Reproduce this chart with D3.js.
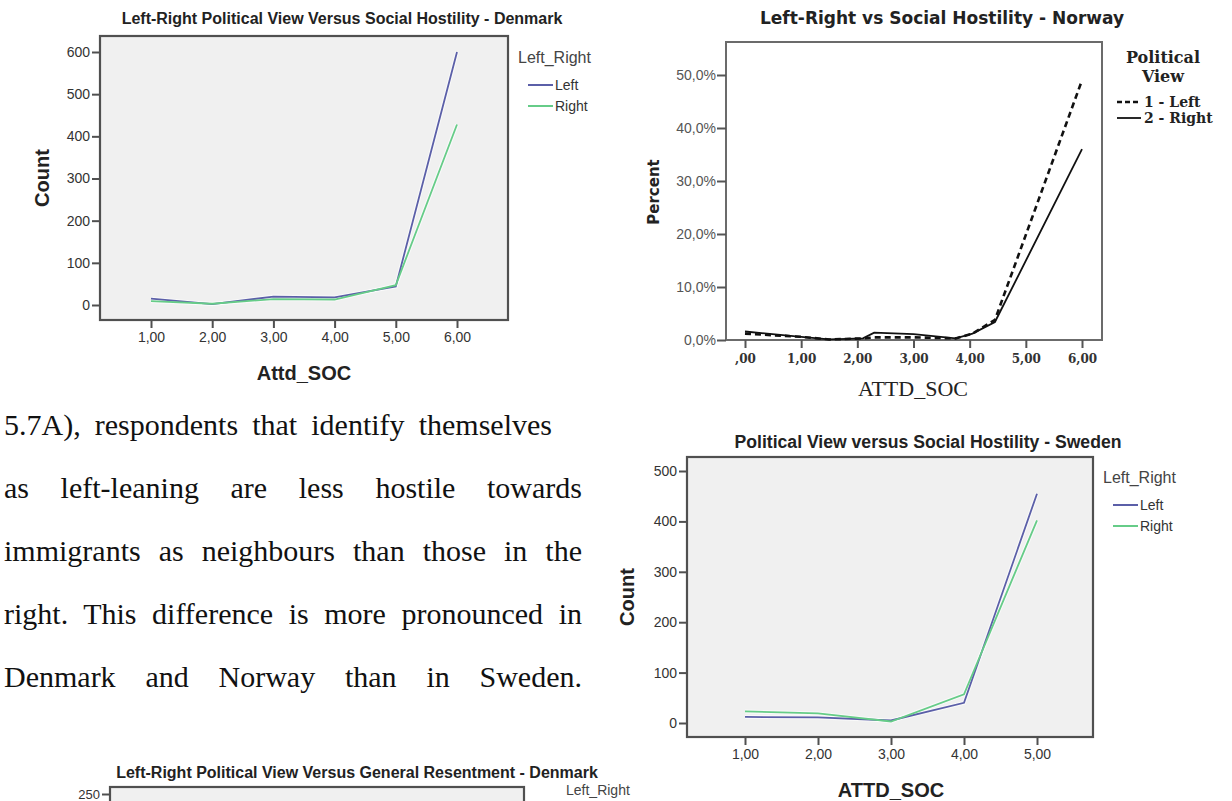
<!DOCTYPE html>
<html><head><meta charset="utf-8">
<script src="https://cdn.jsdelivr.net/npm/d3@7"></script>
<style>html,body{margin:0;padding:0;background:#fff;} svg{display:block;}</style>
</head><body>
<svg id="c" width="1232" height="801"></svg>
<script>
// ---------- DATA ----------
// Denmark (Count)
const dkCategories = [1, 2, 3, 4, 5, 6];
const dkLeft  = [15, 2, 20, 18, 44, 600];
const dkRight = [9, 3, 14, 13, 47, 428];
const dkYTicks = [0, 100, 200, 300, 400, 500, 600];
// Norway (Percent)
const noX     = [0, 1, 1.5, 2.1, 2.3, 3, 3.75, 4.05, 4.45, 6];
const noLeft  = [1.2, 0.6, 0.1, 0.3, 0.5, 0.5, 0.3, 1.2, 3.8, 49];
const noRight = [1.6, 0.6, 0.1, 0.3, 1.4, 1.1, 0.3, 1.2, 3.4, 36];
const noXTicks = [0, 1, 2, 3, 4, 5, 6];
const noYTicks = [0, 10, 20, 30, 40, 50];
// Sweden (Count)
const seCategories = [1, 2, 3, 4, 5];
const seLeft  = [12, 11, 5, 40, 455];
const seRight = [23, 19, 3, 57, 402];
const seYTicks = [0, 100, 200, 300, 400, 500];
// Bottom chart (partially visible)
const grYTicks = [250];
// Paragraph
const paragraphLines = [
  "5.7A), respondents that identify themselves",
  "as left-leaning are less hostile towards",
  "immigrants as neighbours than those in the",
  "right. This difference is more pronounced in",
  "Denmark and Norway than in Sweden."
];
const seriesNames = ["Left", "Right"];
const noSeriesNames = ["1 - Left", "2 - Right"];

// ---------- DRAW ----------
const svg = d3.select('#c');
const SANS = "'Liberation Sans', Arial, sans-serif";
const comma2 = v => d3.format('.2f')(v).replace('.', ',');
const LEFT_C = '#5b5fa8', RIGHT_C = '#66cc88';

function spssChart(c) {
  const g = svg.append('g');
  const x = d3.scaleLinear().domain(c.xDomain).range(c.xRange);
  const y = d3.scaleLinear().domain(c.yDomain).range(c.yRange);
  g.append('rect').attr('x', c.box[0]).attr('y', c.box[2])
    .attr('width', c.box[1] - c.box[0]).attr('height', c.box[3] - c.box[2])
    .attr('fill', '#f0f0f0').attr('stroke', '#505050').attr('stroke-width', 2.2);
  const ya = g.append('g').attr('transform', `translate(${c.box[0]},0)`)
    .call(d3.axisLeft(y).tickValues(c.yTicks).tickSize(8).tickPadding(2).tickFormat(d3.format('d')));
  ya.select('.domain').remove();
  ya.selectAll('line').attr('stroke', '#505050').attr('stroke-width', 2);
  ya.selectAll('text').attr('font-family', SANS).attr('font-size', c.tickFont || 14).attr('fill', '#333');
  if (c.xTicks) {
    const xa = g.append('g').attr('transform', `translate(0,${c.box[3]})`)
      .call(d3.axisBottom(x).tickValues(c.xTicks).tickSize(8).tickPadding(4).tickFormat(comma2));
    xa.select('.domain').remove();
    xa.selectAll('line').attr('stroke', '#505050').attr('stroke-width', 2);
    xa.selectAll('text').attr('font-family', SANS).attr('font-size', 14).attr('fill', '#333');
  }
  if (c.series) {
    const line = d3.line().x((d, i) => x(c.cats[i])).y(d => y(d));
    c.series.forEach(s => {
      g.append('path').attr('d', line(s.values)).attr('fill', 'none')
        .attr('stroke', '#ffffff').attr('stroke-opacity', 0.6).attr('stroke-width', 4);
    });
    c.series.forEach(s => {
      g.append('path').attr('d', line(s.values)).attr('fill', 'none')
        .attr('stroke', s.color).attr('stroke-width', 1.8);
    });
  }
  g.append('text').attr('x', c.title[1]).attr('y', c.title[2]).attr('text-anchor', 'middle')
    .attr('font-family', SANS).attr('font-weight', 'bold').attr('font-size', c.title[3])
    .attr('fill', '#222').text(c.title[0]);
  if (c.yLabel) g.append('text').attr('transform', `translate(${c.yLabel[1]},${c.yLabel[2]}) rotate(-90)`)
    .attr('text-anchor', 'middle').attr('font-family', SANS).attr('font-weight', 'bold')
    .attr('font-size', 20).attr('fill', '#222').text(c.yLabel[0]);
  if (c.xLabel) g.append('text').attr('x', c.xLabel[1]).attr('y', c.xLabel[2]).attr('text-anchor', 'middle')
    .attr('font-family', SANS).attr('font-weight', 'bold').attr('font-size', 20).attr('fill', '#222')
    .text(c.xLabel[0]);
  const lg = c.legend;
  g.append('text').attr('x', lg.x).attr('y', lg.y).attr('font-family', SANS).attr('font-size', lg.size || 16)
    .attr('fill', '#444').text('Left_Right');
  if (c.series) c.series.forEach((s, k) => {
    const yy = lg.y + 22 + k * 21;
    g.append('line').attr('x1', lg.x + 10).attr('x2', lg.x + 35).attr('y1', yy).attr('y2', yy)
      .attr('stroke', s.color).attr('stroke-width', 2);
    g.append('text').attr('x', lg.x + 37).attr('y', yy + 5).attr('font-family', SANS)
      .attr('font-size', 14).attr('fill', '#333').text(s.name);
  });
}

// Denmark
spssChart({
  box: [100, 508, 36, 320], xDomain: [1, 6], xRange: [151, 457], yDomain: [0, 600], yRange: [305, 52],
  yTicks: dkYTicks, xTicks: dkCategories, cats: dkCategories,
  series: [{name: seriesNames[0], values: dkLeft, color: LEFT_C}, {name: seriesNames[1], values: dkRight, color: RIGHT_C}],
  title: ['Left-Right Political View Versus Social Hostility - Denmark', 342, 24, 16],
  yLabel: ['Count', 49, 178], xLabel: ['Attd_SOC', 304, 380],
  legend: {x: 518, y: 63}
});
// Sweden
spssChart({
  box: [687, 1093, 457, 737], xDomain: [1, 5], xRange: [745, 1037], yDomain: [0, 500], yRange: [723, 471],
  yTicks: seYTicks, xTicks: seCategories, cats: seCategories,
  series: [{name: seriesNames[0], values: seLeft, color: LEFT_C}, {name: seriesNames[1], values: seRight, color: RIGHT_C}],
  title: ['Political View versus Social Hostility - Sweden', 928, 448, 17.6],
  yLabel: ['Count', 634, 597], xLabel: ['ATTD_SOC', 891, 797],
  legend: {x: 1103, y: 483}
});
// Bottom (General Resentment) - only its top is visible
spssChart({
  box: [110, 524, 787, 1000], xDomain: [1, 6], xRange: [160, 475], yDomain: [0, 250], yRange: [990, 794],
  yTicks: grYTicks, tickFont: 13, xTicks: null, cats: null, series: null,
  title: ['Left-Right Political View Versus General Resentment - Denmark', 357, 778, 16],
  legend: {x: 566, y: 795, size: 14}
});

// Norway
(function () {
  const g = svg.append('g');
  const box = [726, 1102, 42, 340];
  const x = d3.scaleLinear().domain([0, 6]).range([745, 1082]);
  const y = d3.scaleLinear().domain([0, 50]).range([340, 75]);
  g.append('rect').attr('x', box[0]).attr('y', box[2]).attr('width', box[1] - box[0]).attr('height', box[3] - box[2])
    .attr('fill', '#fff').attr('stroke', '#6b6b6b').attr('stroke-width', 2);
  const ya = g.append('g').attr('transform', `translate(${box[0]},0)`)
    .call(d3.axisLeft(y).tickValues(noYTicks).tickSize(9).tickPadding(1)
      .tickFormat(v => d3.format('.1f')(v).replace('.', ',') + '%'));
  ya.select('.domain').remove();
  ya.selectAll('line').attr('stroke', '#555').attr('stroke-width', 2);
  ya.selectAll('text').attr('font-family', SANS).attr('font-size', 14).attr('fill', '#555');
  const xa = g.append('g').attr('transform', `translate(0,${box[3]})`)
    .call(d3.axisBottom(x).tickValues(noXTicks).tickSize(8).tickPadding(6)
      .tickFormat(v => v === 0 ? ',00' : comma2(v)));
  xa.select('.domain').remove();
  xa.selectAll('line').attr('stroke', '#555').attr('stroke-width', 2);
  xa.selectAll('text').attr('font-family', "'DejaVu Serif', serif").attr('font-weight', 'bold')
    .attr('font-size', 12).attr('fill', '#333');
  const line = d3.line().x((d, i) => x(noX[i])).y(d => y(d));
  g.append('path').attr('d', line(noRight)).attr('fill', 'none').attr('stroke', '#111').attr('stroke-width', 1.8);
  g.append('path').attr('d', line(noLeft)).attr('fill', 'none').attr('stroke', '#111').attr('stroke-width', 2.6)
    .attr('stroke-dasharray', '6,4');
  g.append('text').attr('x', 942).attr('y', 24).attr('text-anchor', 'middle')
    .attr('font-family', "'DejaVu Sans', sans-serif").attr('font-weight', 'bold').attr('font-size', 17)
    .attr('fill', '#222').text('Left-Right vs Social Hostility - Norway');
  g.append('text').attr('transform', 'translate(659,192) rotate(-90)').attr('text-anchor', 'middle')
    .attr('font-family', "'DejaVu Sans', sans-serif").attr('font-weight', 'bold').attr('font-size', 15)
    .attr('fill', '#222').text('Percent');
  g.append('text').attr('x', 913).attr('y', 396).attr('text-anchor', 'middle')
    .attr('font-family', "'Liberation Serif', serif").attr('font-size', 22).attr('fill', '#222').text('ATTD_SOC');
  const SER = "'DejaVu Serif', serif";
  g.append('text').attr('x', 1163).attr('y', 63).attr('text-anchor', 'middle').attr('font-family', SER)
    .attr('font-weight', 'bold').attr('font-size', 16).attr('fill', '#222').text('Political');
  g.append('text').attr('x', 1163).attr('y', 82).attr('text-anchor', 'middle').attr('font-family', SER)
    .attr('font-weight', 'bold').attr('font-size', 16).attr('fill', '#222').text('View');
  [[noSeriesNames[0], 102, '5,3', 2.6], [noSeriesNames[1], 118, null, 1.8]].forEach(d => {
    const l = g.append('line').attr('x1', 1117).attr('x2', 1141).attr('y1', d[1]).attr('y2', d[1])
      .attr('stroke', '#111').attr('stroke-width', d[3]);
    if (d[2]) l.attr('stroke-dasharray', d[2]);
    g.append('text').attr('x', 1144).attr('y', d[1] + 5).attr('font-family', SER).attr('font-weight', 'bold')
      .attr('font-size', 14).attr('fill', '#222').text(d[0]);
  });
})();

// Paragraph text (justified via word-spacing)
const pg = svg.append('g');
paragraphLines.forEach((t, i) => {
  const tx = pg.append('text').attr('x', 4).attr('y', 435 + i * 63)
    .attr('font-family', "'Liberation Serif', 'Times New Roman', serif").attr('font-size', 30)
    .attr('fill', '#111').text(t);
  const target = i === 0 ? 548 : 578;
  const nat = tx.node().getComputedTextLength();
  const spaces = (t.match(/ /g) || []).length;
  if (spaces) tx.style('word-spacing', ((target - nat) / spaces) + 'px');
});
</script>
</body></html>
